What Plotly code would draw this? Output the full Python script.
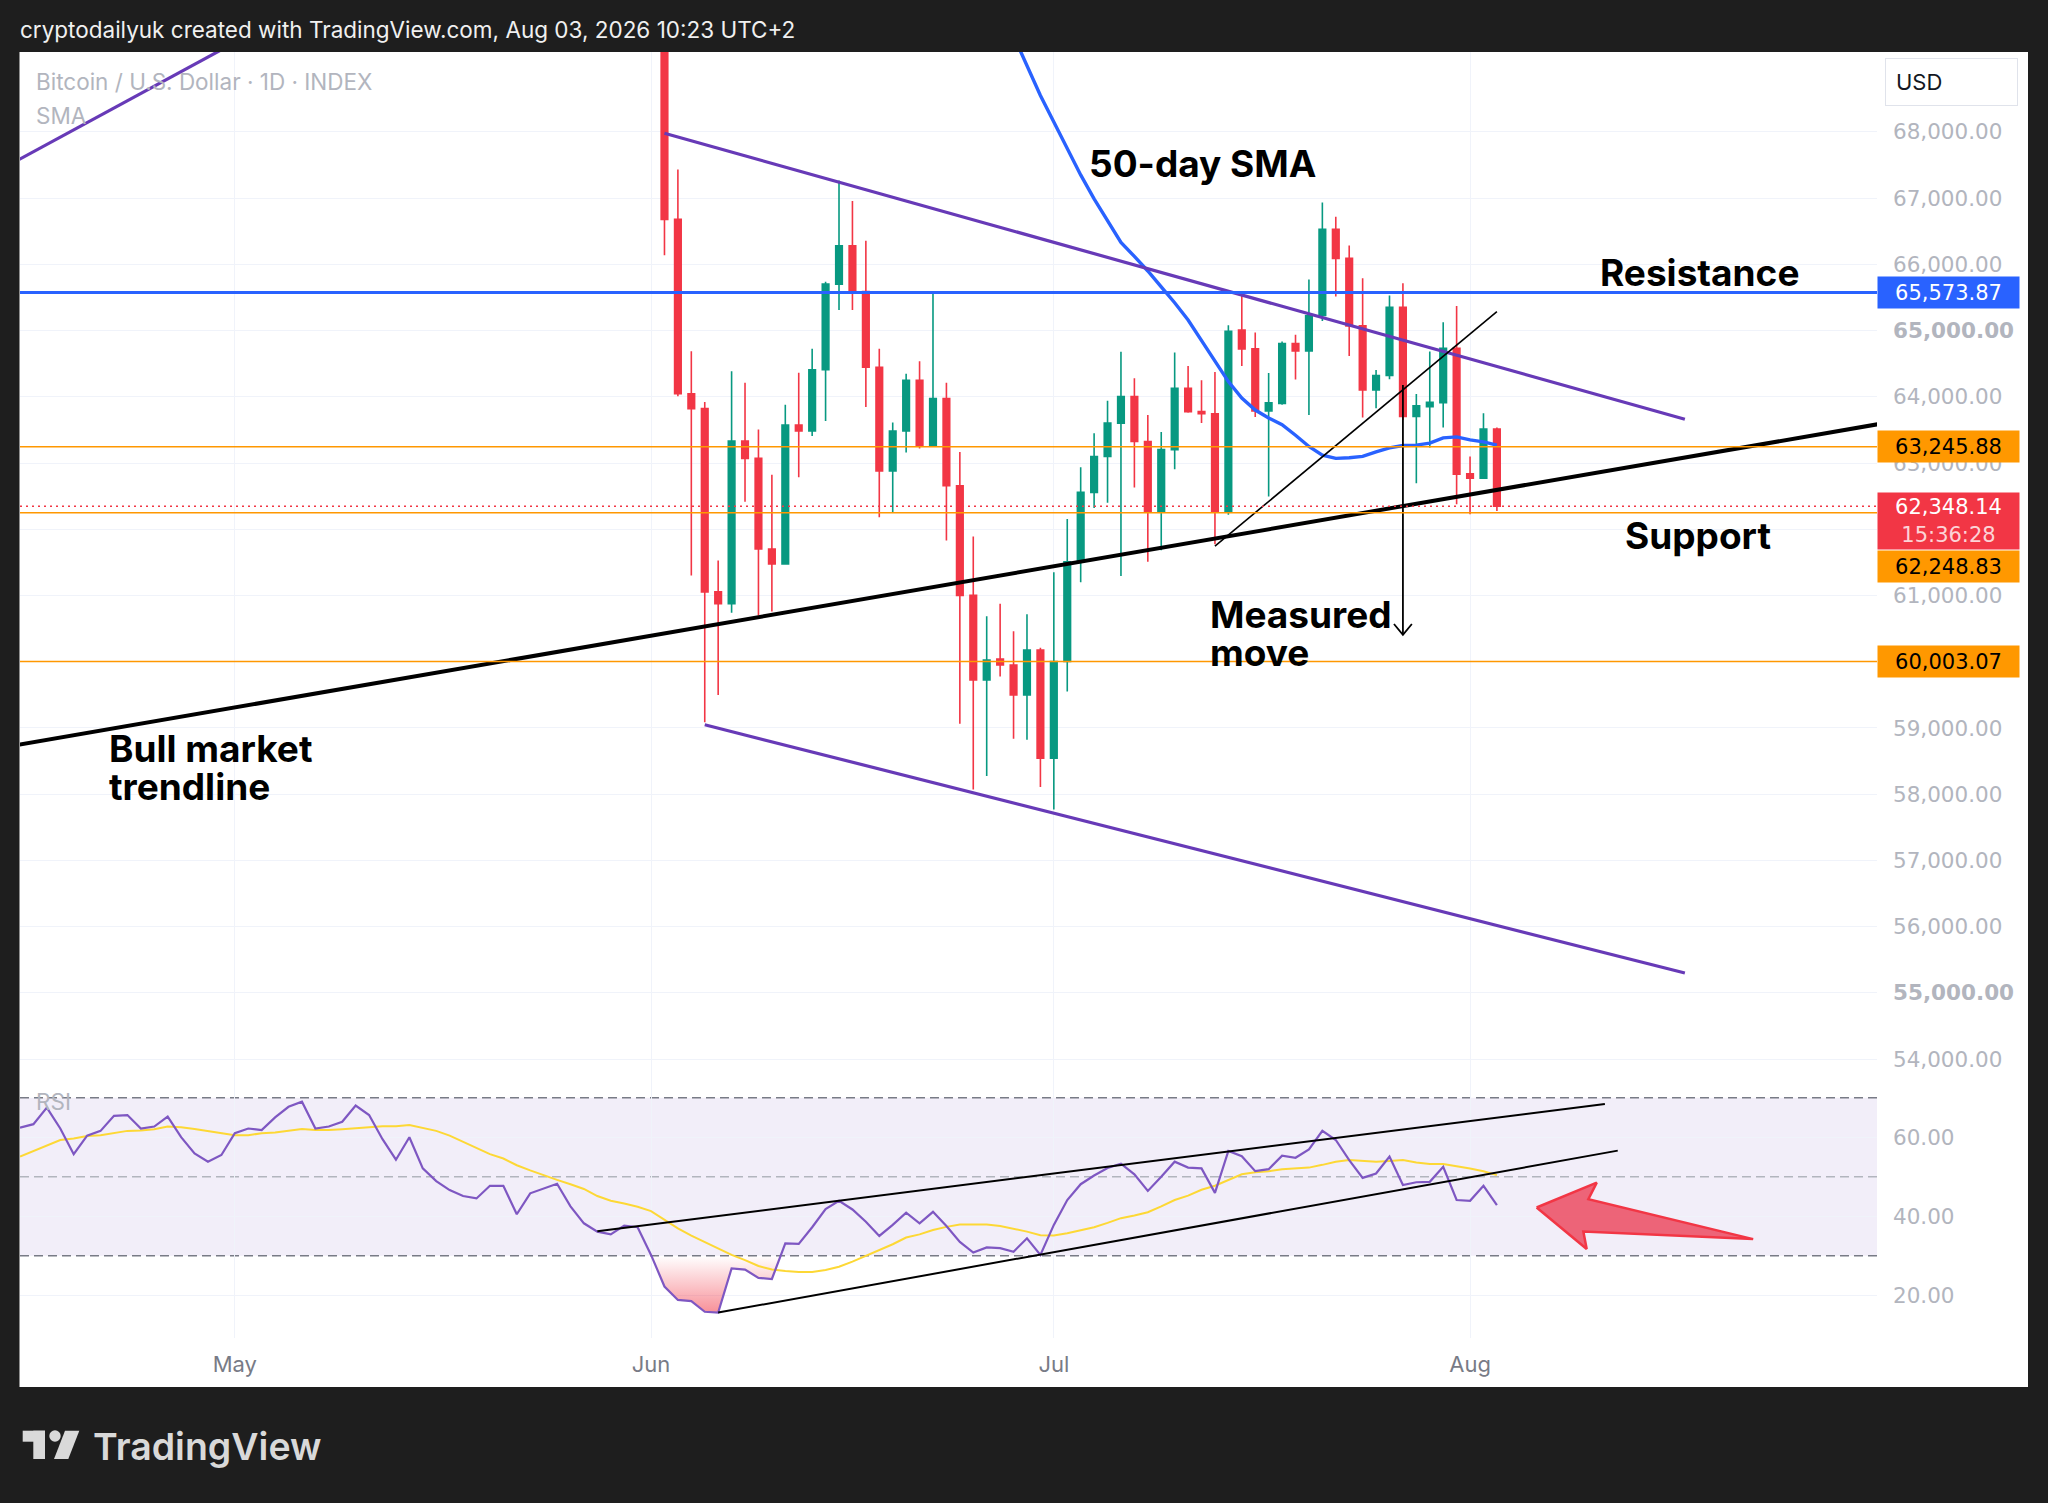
import numpy as np
import pandas as pd
import plotly.graph_objects as go
from plotly.subplots import make_subplots

# ---------------- data ----------------
# daily candles, Jun 2 -> Aug 3 2026
candle_dates = pd.date_range("2026-06-02", "2026-08-03", freq="D")

open_jun = [70200, 66679, 64047, 63822, 61055, 60875, 63333, 63070, 61702, 61476,
            63574, 63484, 64408, 65702, 66281, 65589, 64446, 62882, 63484, 64251,
            63258, 63972, 62657, 61002, 59724, 60040, 59950, 59499, 60176]
high_jun = [70600, 67431, 64687, 63920, 61529, 64386, 64213, 63506, 62822, 63882,
            64363, 64724, 65739, 67266, 66957, 66356, 64724, 63612, 64348, 64536,
            65574, 64213, 63168, 61890, 60687, 60875, 60462, 60717, 60213]
low_jun = [66138, 64010, 61303, 59085, 59499, 60739, 62416, 60700, 60760, 61470,
           62784, 63408, 63634, 65311, 65311, 63845, 62183, 62258, 63160, 63220,
           63245, 61829, 59063, 58070, 58273, 59777, 58837, 58822, 58108]
close_jun = [66679, 64047, 63822, 61055, 60875, 63333, 63070, 61702, 61476, 63574,
             63484, 64408, 65702, 66281, 65589, 64446, 62882, 63484, 64251, 63258,
             63972, 62657, 61002, 59724, 60025, 59950, 59499, 60176, 58543]

open_jul = [58543, 60003, 61510, 62557, 63098, 63603, 64004, 63326, 62261, 63203,
            64127, 63776, 63745, 62261, 65007, 64724, 63788, 63899, 64804, 64693,
            65230, 66530, 66090, 65071, 64104, 64321, 65352, 63702, 63852, 63912, 64733]
high_jul = [61350, 62156, 62938, 63449, 63942, 64681, 64281, 63726, 63468, 64669,
            64465, 64250, 64373, 65081, 65543, 64970, 64361, 64835, 64939, 65771,
            66935, 66717, 66283, 65790, 64406, 65529, 65715, 64044, 64683, 65126, 65372]
low_jul = [57769, 59552, 61202, 62322, 62402, 61294, 62631, 61510, 61682, 62908,
           63760, 63603, 61774, 62218, 64465, 63696, 62495, 63880, 64262, 63726,
           65143, 65513, 64618, 63686, 63827, 64265, 63650, 62695, 63234, 63535, 62378]
close_jul = [60003, 61510, 62557, 63098, 63603, 64004, 63326, 62261, 63203, 64127,
             63776, 63745, 62261, 64989, 64724, 63788, 63911, 64804, 64693, 65223,
             66530, 66090, 65071, 64104, 64321, 65352, 63702, 63863, 63918, 64733, 62831]

open_aug = [62836, 62771, 63515]
high_aug = [63098, 63752, 63535]
low_aug = [62227, 62771, 62277]
close_aug = [62771, 63515, 62348.14]

# 50-day SMA, Jun 27 -> Aug 3
sma_dates = pd.date_range("2026-06-27", "2026-08-03", freq="D")
sma_jun = [69900, 69450, 69000, 68550]
sma_jul = [68150, 67750, 67350, 66990, 66650, 66330, 66120, 65900, 65660, 65420,
           65160, 64850, 64520, 64230, 63980, 63800, 63680, 63580, 63420, 63250,
           63120, 63070, 63080, 63100, 63170, 63230, 63265, 63270, 63300, 63380, 63395]
sma_aug = [63350, 63320, 63270]

# RSI(14) and its moving average, Apr 15 -> Aug 3
rsi_dates = pd.date_range("2026-04-15", "2026-08-03", freq="D")
rsi_apr = [62.4, 63.3, 67.5, 62.2, 55.7, 60.4, 61.6, 65.4, 65.6, 62.2, 62.7, 65.2,
           60.0, 55.9, 53.8, 55.5]
rsi_may = [61.0, 62.2, 61.8, 65.0, 67.7, 69.0, 62.2, 62.7, 63.9, 68.0, 65.6, 59.5,
           54.3, 60.0, 52.1, 48.9, 46.6, 45.1, 44.5, 47.7, 47.7, 40.5, 45.8, 47.0,
           48.2, 42.5, 38.2, 36.1, 35.4, 37.6, 37.2]
rsi_jun = [30.2, 22.2, 18.8, 18.5, 15.8, 15.6, 26.8, 26.5, 24.4, 24.1, 33.1, 33.0,
           37.2, 41.8, 43.9, 41.7, 38.6, 35.0, 37.8, 40.9, 38.2, 41.1, 37.5, 33.5,
           30.8, 32.1, 31.9, 31.0, 34.4, 30.2]
rsi_jul = [37.8, 44.1, 48.1, 50.3, 52.2, 53.3, 50.6, 46.4, 50.0, 53.8, 52.3, 52.1,
           45.9, 56.5, 55.2, 51.4, 51.9, 55.3, 54.8, 56.9, 61.6, 59.3, 54.2, 49.7,
           50.8, 55.1, 47.9, 48.6, 48.7, 52.5, 44.1]
rsi_aug = [43.9, 47.7, 42.8]

rsima_apr = [55.1, 56.5, 58.0, 59.3, 59.7, 60.3, 60.5, 61.1, 61.6, 61.7, 62.0, 62.7,
             62.5, 62.1, 61.6, 61.0]
rsima_may = [60.5, 60.5, 61.0, 61.2, 61.7, 62.1, 61.8, 61.8, 62.0, 62.2, 62.5, 62.8,
             62.8, 63.1, 62.4, 61.6, 60.4, 58.9, 57.2, 55.7, 54.6, 52.9, 51.6, 50.3,
             49.2, 48.1, 46.9, 45.1, 43.9, 43.2, 42.4]
rsima_jun = [41.3, 39.2, 36.9, 35.1, 33.5, 31.7, 30.2, 28.9, 27.4, 26.5, 26.1, 25.9,
             25.9, 26.4, 27.2, 28.5, 29.9, 31.3, 32.9, 34.6, 35.4, 36.5, 37.3, 37.9,
             37.9, 37.9, 37.5, 36.8, 36.1, 35.2]
rsima_jul = [35.1, 35.7, 36.5, 37.2, 38.3, 39.5, 40.2, 41.0, 42.5, 44.1, 45.2, 46.7,
             47.7, 49.1, 50.6, 51.1, 51.4, 51.9, 52.1, 52.3, 53.0, 53.8, 54.2, 54.0,
             53.8, 54.0, 54.2, 53.6, 53.2, 53.2, 52.7]
rsima_aug = [52.1, 51.4, 50.4]

# price levels
resistance_level = 65573.87
orange_levels = [63245.88, 62248.83, 60003.07]
last_price = 62348.14
countdown = "15:36:28"
price_ticks = list(range(54000, 69000, 1000))
rsi_ticks = [20, 40, 60]

# drawings (date, value)
channel_top_x, channel_top_y = ["2026-06-02", "2026-08-17"], [67980, 63662]
channel_bot_x, channel_bot_y = ["2026-06-05", "2026-08-17"], [59048, 55300]
old_line_x, old_line_y = ["2026-04-14", "2026-05-02"], [67480, 69460]
bull_x, bull_y = ["2026-04-14", "2026-09-01"], [58716, 63608]
wedge_x, wedge_y = ["2026-07-13", "2026-08-03"], [61746, 65285]
measured_x, measured_y = ["2026-07-27", "2026-07-27"], [64179, 60408]
chevron_x = ["2026-07-26 08:00", "2026-07-27", "2026-07-27 16:00"]
chevron_y = [60570, 60408, 60570]
rsi_top_x, rsi_top_y = ["2026-05-28", "2026-08-11 01:00"], [36.2, 68.4]
rsi_bot_x, rsi_bot_y = ["2026-06-06", "2026-08-12"], [15.6, 56.6]
arrow_x = ["2026-08-05 23:00", "2026-08-10 10:30", "2026-08-09 19:30", "2026-08-22 02:00",
           "2026-08-09 10:30", "2026-08-09 16:30", "2026-08-05 23:00"]
arrow_y = [42.2, 48.5, 44.3, 34.2, 36.1, 31.7, 42.2]

# ---------------- assemble ----------------
opens = open_jun + open_jul + open_aug
highs = high_jun + high_jul + high_aug
lows = low_jun + low_jul + low_aug
closes = close_jun + close_jul + close_aug
sma = sma_jun + sma_jul + sma_aug
rsi = np.array(rsi_apr + rsi_may + rsi_jun + rsi_jul + rsi_aug)
rsi_ma = rsima_apr + rsima_may + rsima_jun + rsima_jul + rsima_aug

# oversold area: boundary where rsi dips under 30
below = np.where(rsi < 30)[0]
i0, i1 = below[0], below[-1]
t0 = (rsi[i0 - 1] - 30) / (rsi[i0 - 1] - rsi[i0])
t1 = (30 - rsi[i1]) / (rsi[i1 + 1] - rsi[i1])
os_x = ([rsi_dates[i0 - 1] + pd.Timedelta(days=float(t0))] + list(rsi_dates[i0:i1 + 1])
        + [rsi_dates[i1] + pd.Timedelta(days=float(t1))])
os_y = [30] + list(rsi[i0:i1 + 1]) + [30]

# ---------------- geometry (pixels of the 2048x1503 page) ----------------
W, H = 2048, 1503
PL, PR, PT, PB = 20, 1877, 52, 1338
SPLIT = 1086


def px(x):
    return (x - PL) / (PR - PL)


def py(y):
    return (PB - y) / (PB - PT)


GREEN, RED, BLUE, PURPLE, ORANGE = "#089981", "#F23645", "#2962FF", "#673AB7", "#FF9800"
FONT = "Inter"
AXFONT = "DejaVu Sans"
DARK = "#1E1E1E"

fig = make_subplots(rows=2, cols=1, shared_xaxes=True, vertical_spacing=0)

fig.add_trace(go.Candlestick(
    x=candle_dates, open=opens, high=highs, low=lows, close=closes,
    increasing=dict(line=dict(color=GREEN, width=1.6), fillcolor=GREEN),
    decreasing=dict(line=dict(color=RED, width=1.6), fillcolor=RED),
    whiskerwidth=0, hoverinfo="skip"), row=1, col=1)

fig.add_trace(go.Scatter(x=sma_dates, y=sma, mode="lines",
                         line=dict(color=BLUE, width=3.4)), row=1, col=1)


def add_line(x, y, color, width, row):
    fig.add_trace(go.Scatter(x=x, y=y, mode="lines", line=dict(color=color, width=width),
                             hoverinfo="skip"), row=row, col=1)


add_line(old_line_x, old_line_y, PURPLE, 3.2, 1)
add_line(channel_top_x, channel_top_y, PURPLE, 3.2, 1)
add_line(channel_bot_x, channel_bot_y, PURPLE, 3.2, 1)
add_line(bull_x, bull_y, "#000000", 4, 1)
add_line(wedge_x, wedge_y, "#000000", 1.6, 1)
add_line(measured_x, measured_y, "#000000", 1.8, 1)
add_line(chevron_x, chevron_y, "#000000", 1.8, 1)

# RSI pane
fig.add_trace(go.Scatter(
    x=os_x, y=os_y, mode="lines", fill="toself", line=dict(width=0),
    fillgradient=dict(type="vertical",
                      colorscale=[[0, "rgba(242,54,69,0.55)"], [1, "rgba(242,54,69,0.0)"]]),
    hoverinfo="skip"), row=2, col=1)
fig.add_trace(go.Scatter(x=rsi_dates, y=rsi_ma, mode="lines",
                         line=dict(color="#FDD835", width=2)), row=2, col=1)
fig.add_trace(go.Scatter(x=rsi_dates, y=rsi, mode="lines",
                         line=dict(color="#7E57C2", width=2.2)), row=2, col=1)
add_line(rsi_top_x, rsi_top_y, "#000000", 2, 2)
add_line(rsi_bot_x, rsi_bot_y, "#000000", 2, 2)
fig.add_trace(go.Scatter(x=arrow_x, y=arrow_y, mode="lines", fill="toself",
                         fillcolor="rgba(236,70,92,0.82)",
                         line=dict(color=RED, width=2.5), hoverinfo="skip"), row=2, col=1)

# ---------------- shapes ----------------
shapes = [
    dict(type="rect", xref="paper", yref="paper", x0=px(19.5), x1=px(2028), y0=py(1387), y1=py(PT),
         fillcolor="#FFFFFF", line=dict(width=0), layer="below"),
    dict(type="rect", xref="paper", yref="y2", x0=0, x1=1, y0=30, y1=70,
         fillcolor="rgba(126,87,194,0.1)", line=dict(width=0), layer="below"),
]
for lvl, col in [(70, "#787B86"), (50, "#B2B5BE"), (30, "#787B86")]:
    shapes.append(dict(type="line", xref="paper", yref="y2", x0=0, x1=1, y0=lvl, y1=lvl,
                       line=dict(color=col, width=1.5, dash="9px,5px"), layer="below"))
shapes.append(dict(type="line", xref="paper", yref="y", x0=0, x1=1,
                   y0=resistance_level, y1=resistance_level, line=dict(color=BLUE, width=3),
                   layer="above"))
for lvl in orange_levels:
    shapes.append(dict(type="line", xref="paper", yref="y", x0=0, x1=1, y0=lvl, y1=lvl,
                       line=dict(color=ORANGE, width=1.6), layer="above"))
shapes.append(dict(type="line", xref="paper", yref="y", x0=0, x1=1, y0=last_price, y1=last_price,
                   line=dict(color=RED, width=1.6, dash="2px,4px"), layer="above"))

# TradingView logo
LOGO = "#D9D9D9"
shapes += [
    dict(type="rect", xref="paper", yref="paper", x0=px(22.7), x1=px(45), y0=py(1441.7), y1=py(1430.7),
         fillcolor=LOGO, line=dict(width=0)),
    dict(type="rect", xref="paper", yref="paper", x0=px(33.3), x1=px(45), y0=py(1459), y1=py(1430.7),
         fillcolor=LOGO, line=dict(width=0)),
    dict(type="circle", xref="paper", yref="paper", x0=px(49.3), x1=px(60.7), y0=py(1441.7), y1=py(1430.3),
         fillcolor=LOGO, line=dict(width=0)),
    dict(type="path", xref="paper", yref="paper",
         path=f"M {px(65)} {py(1430.7)} L {px(79.3)} {py(1430.7)} L {px(68.3)} {py(1459)} "
              f"L {px(54)} {py(1459)} Z",
         fillcolor=LOGO, line=dict(width=0)),
]

# ---------------- annotations ----------------
ann = []


def note(text, x, y):
    ann.append(dict(text=text, x=x, y=y, xref="x", yref="y", xanchor="left", yanchor="middle",
                    showarrow=False, font=dict(family=FONT, size=37, color="#000000", weight=700)))


note("50-day SMA", "2026-07-03 12:00", 67530)
note("Resistance", "2026-08-10 12:00", 65870)
note("Support", "2026-08-12 10:00", 61906)
note("Measured", "2026-07-12 12:00", 60710)
note("move", "2026-07-12 12:00", 60140)
note("Bull market", "2026-04-21 12:00", 58693)
note("trendline", "2026-04-21 12:00", 58121)


def price_box(text, y, bg, fg, yanchor="middle", yshift=0, height=27):
    ann.append(dict(text=text, x=1, y=y, xref="paper", yref="y", xanchor="left", yanchor=yanchor,
                    yshift=yshift, showarrow=False, width=137, height=height, align="center",
                    bgcolor=bg, borderpad=2, font=dict(family=AXFONT, size=21, color=fg)))


price_box(f"{resistance_level:,.2f}", resistance_level, BLUE, "#FFFFFF")
price_box(f"{orange_levels[0]:,.2f}", orange_levels[0], ORANGE, "#000000")
price_box(f"{last_price:,.2f}<br><span style='color:rgba(255,255,255,0.8)'>{countdown}</span>",
          last_price, RED, "#FFFFFF", yanchor="top", yshift=14, height=52)
price_box(f"{orange_levels[1]:,.2f}", orange_levels[1], ORANGE, "#000000", yanchor="top", yshift=-37)
price_box(f"{orange_levels[2]:,.2f}", orange_levels[2], ORANGE, "#000000")

# USD box
ann.append(dict(text="USD", x=px(1885), y=py(82), xref="paper", yref="paper", xanchor="left",
                yanchor="middle", showarrow=False, width=111, height=26, align="left",
                bgcolor="#FFFFFF", bordercolor="#E0E3EB", borderwidth=1, borderpad=10,
                font=dict(family=FONT, size=22, color="#131722")))

GREY = "#B2B5BE"
for text, x, y in [("Bitcoin / U.S. Dollar · 1D · INDEX", 34, 82), ("SMA", 34, 115),
                   ("RSI", 34, 1101)]:
    ann.append(dict(text=text, x=px(x), y=py(y), xref="paper", yref="paper", xanchor="left",
                    yanchor="middle", showarrow=False, font=dict(family=FONT, size=22.5, color=GREY)))

ann.append(dict(text="cryptodailyuk created with TradingView.com, Aug 03, 2026 10:23 UTC+2",
                x=px(18), y=py(29), xref="paper", yref="paper", xanchor="left", yanchor="middle",
                showarrow=False, font=dict(family=FONT, size=22.5, color="#F0F0F0", weight=400)))
ann.append(dict(text="TradingView", x=px(91), y=py(1446), xref="paper", yref="paper",
                xanchor="left", yanchor="middle", showarrow=False,
                font=dict(family=FONT, size=37.5, color=LOGO, weight=600)))

# ---------------- layout ----------------
rsi_frac = (PB - SPLIT) / (PB - PT)
price_top = 68000 + (131.9 - PT) / 0.06623
price_bot = 68000 - (SPLIT - 131.9) / 0.06623
rsi_top = 70 + (1097.7 - SPLIT) / 3.95
rsi_bot = 70 - (PB - 1097.7) / 3.95

fig.update_layout(
    width=W, height=H, showlegend=False,
    margin=dict(l=PL, r=W - PR, t=PT, b=H - PB),
    paper_bgcolor=DARK, plot_bgcolor="#FFFFFF",
    shapes=shapes, annotations=ann,
    font=dict(family=FONT),
)
fig.update_xaxes(range=["2026-04-15", "2026-08-31 07:26"], dtick="M1", tick0="2026-05-01",
                 tickformat="%b", showgrid=True, gridcolor="#F0F3FA", gridwidth=1.3,
                 zeroline=False, showline=False, ticks="", rangeslider_visible=False,
                 tickfont=dict(family=FONT, size=22, color="#787B86"))
fig.update_xaxes(ticklabelstandoff=11, row=2, col=1)

price_text = []
for v in price_ticks:
    t = f"{v:,.2f}"
    price_text.append(f"<b>{t}</b>" if v % 10000 == 5000 else t)

fig.update_yaxes(domain=[rsi_frac, 1], range=[price_bot, price_top], side="right",
                 tickvals=price_ticks, ticktext=price_text, row=1, col=1)
fig.update_yaxes(domain=[0, rsi_frac], range=[rsi_bot, rsi_top], side="right",
                 tickvals=rsi_ticks, ticktext=[f"{v:.2f}" for v in rsi_ticks], row=2, col=1)
fig.update_yaxes(showgrid=True, gridcolor="#F0F3FA", gridwidth=1.3, zeroline=False,
                 showline=False, ticks="", ticklabelstandoff=15,
                 tickfont=dict(family=AXFONT, size=21.5, color=GREY))

# page has a default 8px body margin; drop it so the figure fills the window
page_js = ("document.body.style.margin='0';document.body.style.overflow='hidden';"
           f"document.body.style.background='{DARK}';")
fig.write_html("out.html", post_script=page_js, config={"displayModeBar": False})
